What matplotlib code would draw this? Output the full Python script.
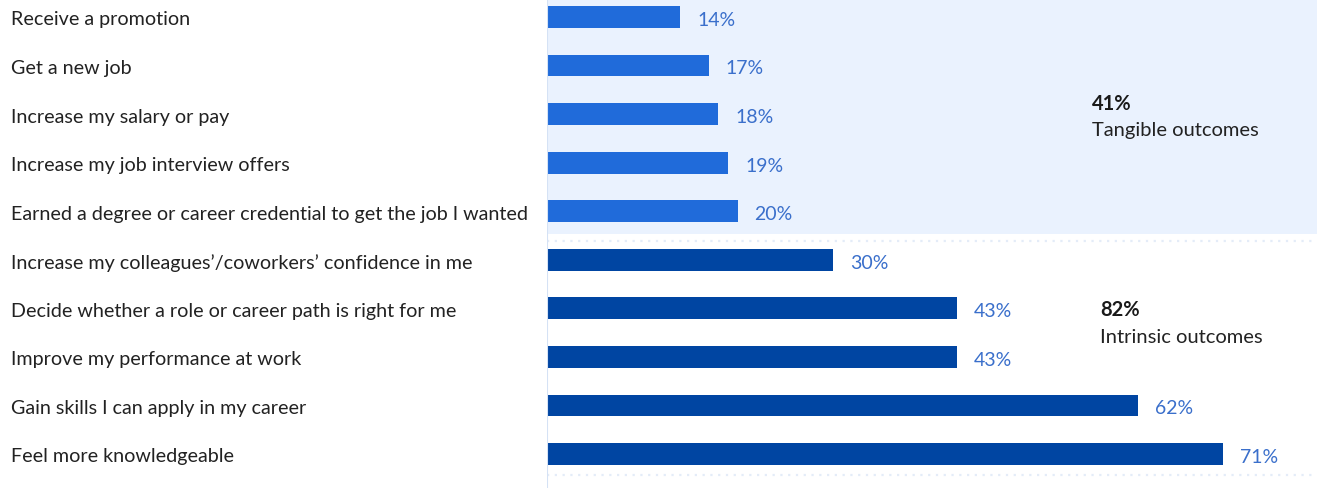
import matplotlib.pyplot as plt
import matplotlib.transforms as mtransforms

labels = [
    "Receive a promotion",
    "Get a new job",
    "Increase my salary or pay",
    "Increase my job interview offers",
    "Earned a degree or career credential to get the job I wanted",
    "Increase my colleagues\u2019/coworkers\u2019 confidence in me",
    "Decide whether a role or career path is right for me",
    "Improve my performance at work",
    "Gain skills I can apply in my career",
    "Feel more knowledgeable",
]
values = [14, 17, 18, 19, 20, 30, 43, 43, 62, 71]
groups = ["tangible"] * 5 + ["intrinsic"] * 5
group_totals = {"tangible": 41, "intrinsic": 82}
group_names = {"tangible": "Tangible outcomes", "intrinsic": "Intrinsic outcomes"}

plt.rcParams['font.family'] = ['Lato', 'DejaVu Sans']

W, H = 1317, 489
fig = plt.figure(figsize=(W / 100, H / 100), dpi=100)
ax = fig.add_axes([547 / W, 0, 1 - 547 / W, 1])

px = 9.526  # pixels per percent
ax.set_xlim(0, (W - 547) / px)
step = 48.6
ax.set_ylim(9 + (H - 455) / step, -18 / step)

# shaded box for the tangible group
top_end = (235 - 18) / step
ax.axhspan(-18 / step, top_end, color="#EAF2FE", zorder=0, lw=0)
ax.axhline((242 - 18) / step, color="#E4ECF8", ls=(0, (1, 2.5)), lw=1.6, zorder=1)
ax.axhline((476 - 18) / step, color="#E4ECF8", ls=(0, (1, 2.5)), lw=1.6, zorder=1)
ax.axvline(0, color="#D5E2F5", lw=1.5, zorder=3)

colors = {"tangible": "#206BDA", "intrinsic": "#0045A2"}
ax.barh(range(len(values)), values, height=0.45,
        color=[colors[g] for g in groups], zorder=2)

for i, v in enumerate(values):
    ax.text(v + 17 / px, i + 0.05, f"{v}%", va="center", ha="left",
            fontsize=14, color="#3A6FCB")

trans = mtransforms.blended_transform_factory(fig.transFigure, ax.transData)
for i, lab in enumerate(labels):
    fig.text(11 / W, i + 0.04, lab, transform=trans, va="center", ha="left",
             fontsize=14.25, color="#222222")

# group summaries
ax.text((1092 - 547) / px, (104 - 18) / step, f"{group_totals['tangible']}%",
        fontsize=14.5, fontweight="bold", color="#1a1a1a", va="center")
ax.text((1092 - 547) / px, (131 - 18) / step, group_names["tangible"],
        fontsize=14.5, color="#222222", va="center")
ax.text((1100 - 547) / px, (310 - 18) / step, f"{group_totals['intrinsic']}%",
        fontsize=14.5, fontweight="bold", color="#1a1a1a", va="center")
ax.text((1100 - 547) / px, (338 - 18) / step, group_names["intrinsic"],
        fontsize=14.5, color="#222222", va="center")

ax.axis("off")
fig.savefig("out.png", dpi=100)
